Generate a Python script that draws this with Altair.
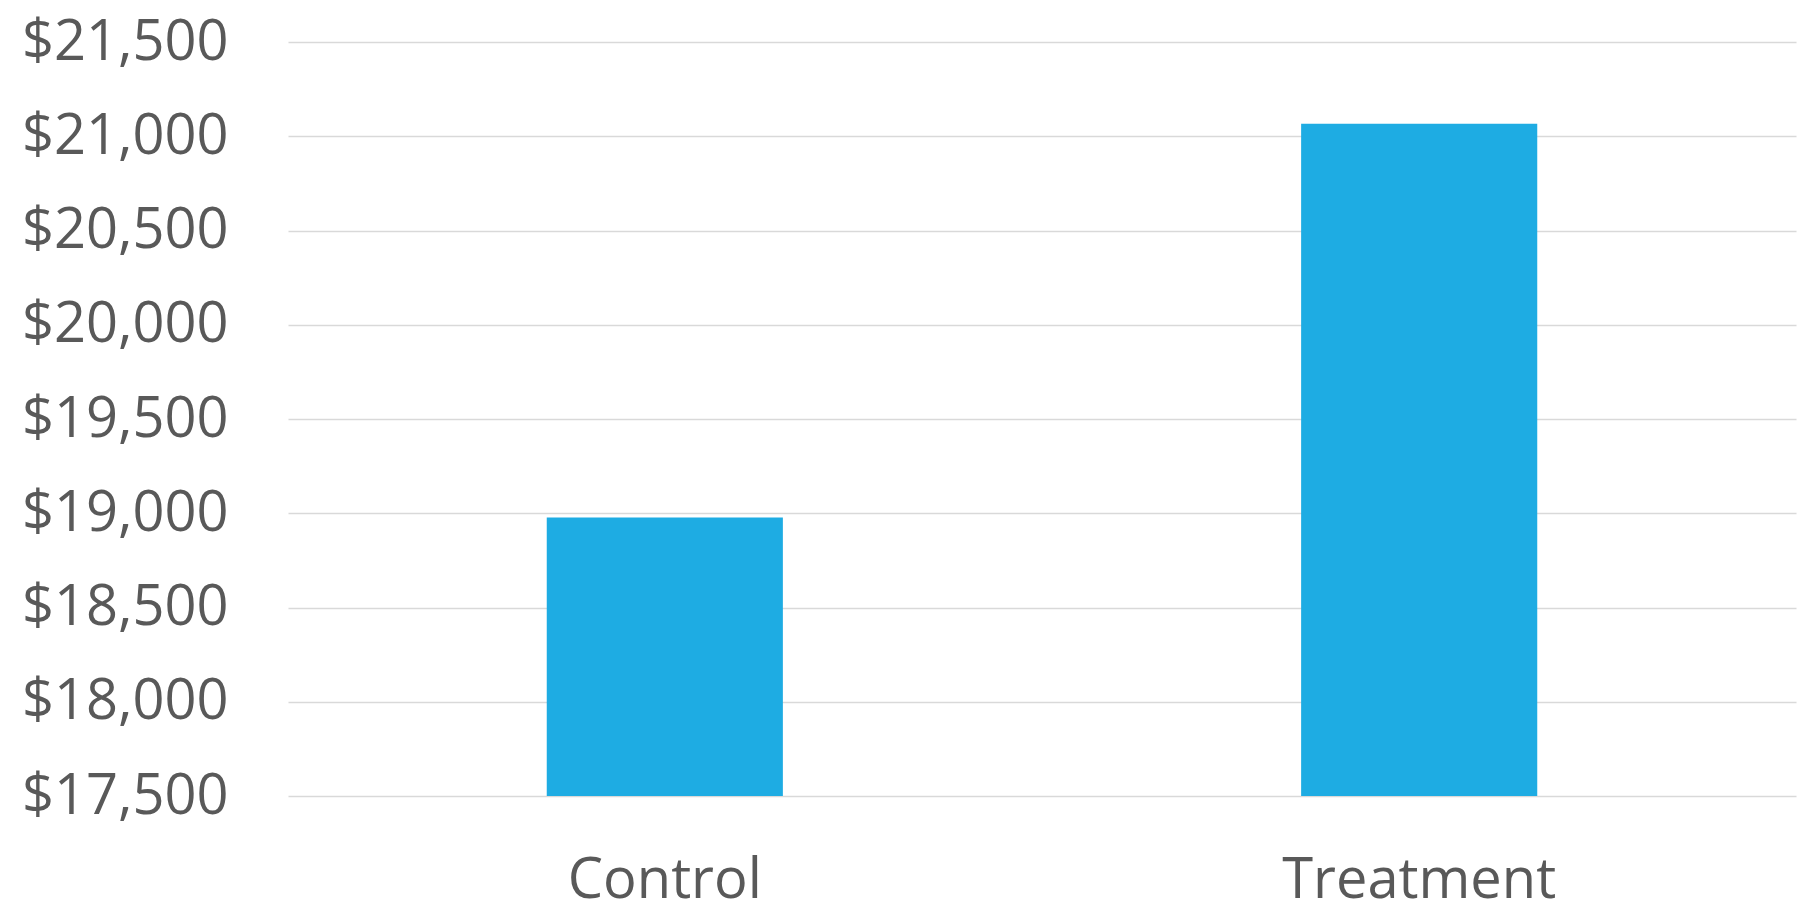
import altair as alt
import pandas as pd

groups = ["Control", "Treatment"]
values = [18978, 21066]

df = pd.DataFrame({"group": groups, "value": values})

FONT = "Open Sans"
TXT = "#595959"

chart = alt.Chart(df).mark_bar(color="#1EACE3", clip=True).encode(
    x=alt.X("group:N", sort=groups, title=None,
            scale=alt.Scale(paddingInner=0.687, paddingOuter=0.343),
            axis=alt.Axis(labelAngle=0, labelFontSize=56, labelFont=FONT, labelColor=TXT,
                          ticks=False, domain=False, labelPadding=57, grid=False,
                          labelLimit=0, zindex=1)),
    y=alt.Y("value:Q", title=None,
            scale=alt.Scale(domain=[17500, 21500], nice=False, zero=False),
            axis=alt.Axis(values=list(range(17500, 22000, 500)), format="$,.0f",
                          labelFontSize=56, labelFont=FONT, labelColor=TXT,
                          ticks=False, domain=False, labelPadding=60, labelLimit=0,
                          gridColor="#D9D9D9", gridWidth=1.5)),
).properties(
    width=1508, height=754,
    autosize=alt.AutoSizeParams(type="none"),
    padding={"left": 280, "top": 34, "right": 2, "bottom": 104},
).configure_view(stroke=None)

chart.save("out.html", embed_options={"renderer": "svg", "actions": False})
